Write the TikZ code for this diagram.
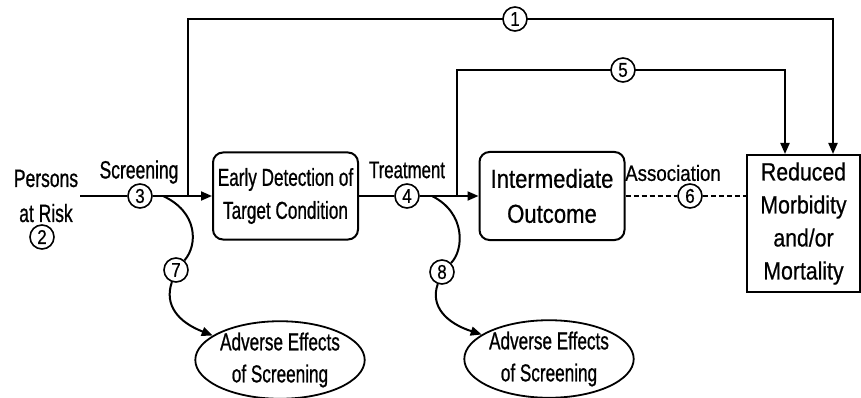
\documentclass[tikz,border=0pt]{standalone}
\usepackage{fontspec}
\setmainfont{Liberation Sans}
\newfontfamily\condfont[FakeStretch=0.7, FakeBold=0.8]{Liberation Sans}
\newfontfamily\semifont[FakeStretch=0.85, FakeBold=0.6]{Liberation Sans}
\usetikzlibrary{positioning,arrows.meta,shapes.geometric}

\begin{document}
\begin{tikzpicture}[
    x=1pt, y=-1pt,
    box/.style={draw, line width=2pt, rounded corners=10pt, align=center, inner sep=2pt},
    endbox/.style={draw, line width=2pt, align=center, inner sep=2pt},
    effect/.style={draw, ellipse, line width=1.8pt, minimum width=164pt, minimum height=75pt, inner sep=0pt, align=center, font=\condfont\fontsize{24.5}{32}\selectfont},
    num/.style={circle, draw, line width=1.6pt, fill=white, minimum size=24pt, inner sep=0pt, font=\semifont\fontsize{20}{20}\selectfont},
    lbl/.style={font=\condfont\fontsize{25}{35}\selectfont, align=center, inner sep=2pt},
    link/.style={line width=2pt},
    arrow/.style={-{Triangle[length=11pt,width=9pt]}, line width=2pt},
]
\useasboundingbox (0,0) rectangle (861,398);

% === Main chain: Persons -> Early Detection -> Intermediate -> Reduced ===
\node[lbl] (persons) at (46,196) {Persons\\at Risk};
\node[num] (s2) at (42,237) {2};
\node[num] (s3) at (140,196) {3};
\node[lbl] (screen) at (139,172) {Screening};
\node[box, minimum width=145pt, minimum height=87pt, font=\condfont\fontsize{24.5}{33}\selectfont] (early) at (285.5,196) {Early Detection of\\Target Condition};
\node[num] (s4) at (407,196) {4};
\node[lbl, font=\condfont\fontsize{24}{24}\selectfont] (treat) at (407,170) {Treatment};
\node[box, minimum width=145pt, minimum height=88pt, font=\semifont\fontsize{26}{35}\selectfont] (inter) at (552,196) {Intermediate\\Outcome};
\node[num] (s6) at (690,196) {6};
\node[font=\semifont\fontsize{22}{24}\selectfont, inner sep=1pt] (assoc) at (673,173) {Association};
\node[endbox, minimum width=113pt, minimum height=137pt, font=\semifont\fontsize{25}{33}\selectfont] (reduced) at (803.5,223.5) {Reduced\\Morbidity\\and/or\\Mortality};

\draw[link] (persons.east) -- (s3);
\draw[arrow] (s3) -- (early);
\draw[link] (early) -- (s4);
\draw[arrow] (s4) -- (inter);
\draw[link, dash pattern=on 5pt off 3pt, line width=1.4pt] (inter) -- (s6);
\draw[link, dash pattern=on 5pt off 3pt, line width=1.4pt] (s6) -- (s6 -| reduced.west);

% === Overarching links 1 and 5 ===
\coordinate (up1) at (188,196);
\coordinate (top1) at (833,19);
\draw[arrow] (up1) |- (top1) -- (reduced.north -| top1);
\node[num] (s1) at (515,19) {1};

\coordinate (up2) at (457,196);
\coordinate (top2) at (785,70);
\draw[arrow] (up2) |- (top2) -- (reduced.north -| top2);
\node[num] (s5) at (623,70) {5};

% === Adverse effects ===
\node[effect] (harm1) at (280,360) {Adverse Effects\\of Screening};
\node[effect] (harm2) at (549,359) {Adverse Effects\\of Screening};

\coordinate (c7) at (163,196);
\node[num] (s7) at (176,270) {7};
\draw[link] (c7) .. controls (198,212) and (198,245) .. (s7);
\draw[arrow] (s7) .. controls (164,305) and (178,322) .. (harm1.160);

\coordinate (c8) at (432,196);
\node[num] (s8) at (442,272) {8};
\draw[link] (c8) .. controls (466,213) and (464,250) .. (s8);
\draw[arrow] (s8) .. controls (430,306) and (446,323) .. (harm2.160);

\end{tikzpicture}
\end{document}
